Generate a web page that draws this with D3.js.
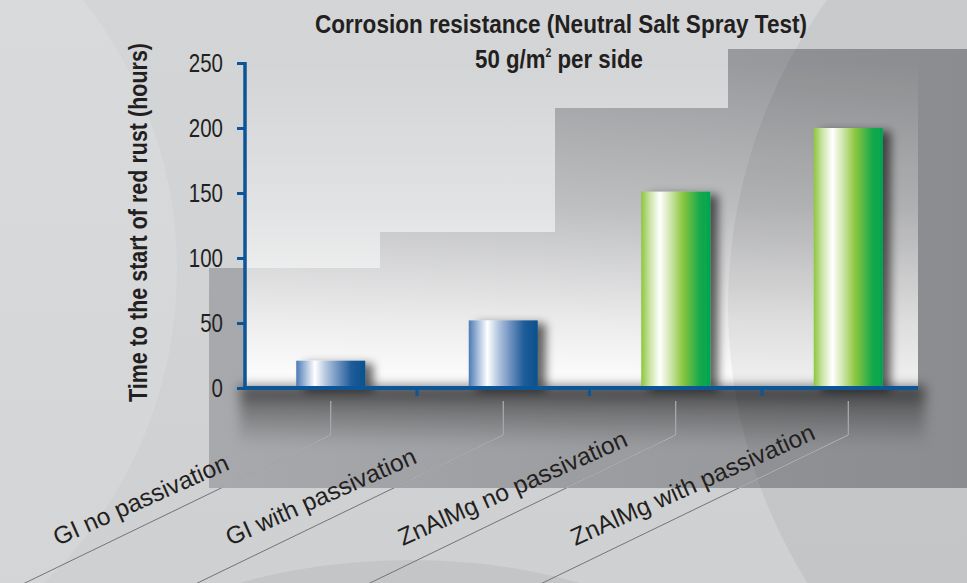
<!DOCTYPE html>
<html><head><meta charset="utf-8">
<script src="https://cdn.jsdelivr.net/npm/d3@7"></script>
<style>html,body{margin:0;padding:0;background:#d1d2d4;overflow:hidden}</style>
</head><body><svg id="c" width="967" height="583"></svg>
<script>
// ---- data ----
const categories = ["GI no passivation", "GI with passivation", "ZnAlMg no passivation", "ZnAlMg with passivation"];
const values = [21, 52, 151, 200];
const barKinds = ["blue", "blue", "green", "green"];
const yTicks = [0, 50, 100, 150, 200, 250];
const titleLine1 = "Corrosion resistance (Neutral Salt Spray Test)";
const titleLine2 = ["50 g/m", "2", " per side"];
const yLabel = "Time to the start of red rust (hours)";

const W = 967, H = 583;
const NARROW = "'Liberation Sans Narrow','Arial Narrow','Liberation Sans',Arial,sans-serif";
const REG = "'Liberation Sans',Arial,sans-serif";
const INK = "#231f20", AXIS = "#0c5596";

const svg = d3.select("#c");
const defs = svg.append("defs");
function lg(id, stops, vertical) {
  const g = defs.append("linearGradient").attr("id", id)
    .attr("x1", 0).attr("y1", 0).attr("x2", vertical ? 0 : 1).attr("y2", vertical ? 1 : 0);
  stops.forEach(s => g.append("stop").attr("offset", s[0]).attr("stop-color", s[1]).attr("stop-opacity", s[2] ?? 1));
}
lg("bgG", [[0, "#d4d5d7"], [1, "#cfd0d2"]], true);
lg("stairG", [[0, "#a8a9ac"], [0.5, "#9c9da0"], [1, "#939497"]], false);
lg("panelG", [[0, "#fff", 0], [0.45, "#fff", 0.35], [0.8, "#fff", 0.8], [1, "#fff", 1]], true);
lg("axShG", [[0, "#000", 0.62], [0.35, "#000", 0.3], [1, "#000", 0]], true);
lg("blueG", [[0, "#4a7ab3"], [0.12, "#9db6d8"], [0.27, "#ffffff"], [0.42, "#b7c8e0"], [0.6, "#6f92c0"], [0.8, "#1f5c99"], [1, "#0a508d"]]);
lg("greenG", [[0, "#8cc63e"], [0.12, "#c9e3a2"], [0.27, "#ffffff"], [0.42, "#cfe6ad"], [0.6, "#8dc63f"], [0.85, "#16a84b"], [1, "#00a650"]]);

const f = defs.append("filter").attr("id", "bs").attr("x", "-30%").attr("y", "-50%").attr("width", "190%").attr("height", "200%");
f.append("feGaussianBlur").attr("in", "SourceAlpha").attr("stdDeviation", 5).attr("result", "b");
f.append("feOffset").attr("in", "b").attr("dx", 8).attr("dy", 3).attr("result", "o");
f.append("feComponentTransfer").attr("in", "o").attr("result", "s").append("feFuncA").attr("type", "linear").attr("slope", 0.6);
const fm = f.append("feMerge"); fm.append("feMergeNode").attr("in", "s"); fm.append("feMergeNode").attr("in", "SourceGraphic");
const fb = defs.append("filter").attr("id", "blur").attr("x", "-20%").attr("y", "-60%").attr("width", "140%").attr("height", "220%");
fb.append("feGaussianBlur").attr("stdDeviation", 6);
defs.append("clipPath").attr("id", "darkClip").append("rect").attr("x", 209).attr("y", 0).attr("width", 760).attr("height", 488);

// ---- background ----
svg.append("rect").attr("width", W).attr("height", H).attr("fill", "url(#bgG)");
svg.append("circle").attr("cx", -258).attr("cy", 270).attr("r", 435).attr("fill", "#fff").attr("opacity", 0.12);
svg.append("ellipse").attr("cx", 410).attr("cy", 700).attr("rx", 310).attr("ry", 140).attr("fill", "#000").attr("opacity", 0.05);
svg.append("polygon")
  .attr("points", [[209,268],[380,268],[380,232],[555,232],[555,108],[728,108],[728,49],[967,49],[967,488],[209,488]].join(" "))
  .attr("fill", "url(#stairG)");

// scales
const y = d3.scaleLinear().domain([0, 250]).range([388, 63]);
const x = d3.scaleBand().domain(categories).range([244.5, 934.5]);
const bw = x.bandwidth();

// plot panel
svg.append("rect").attr("x", 245).attr("y", 62).attr("width", 918 - 245).attr("height", 388 - 62).attr("fill", "url(#panelG)");
svg.append("circle").attr("cx", 1251).attr("cy", 306).attr("r", 523).attr("fill", "#000").attr("opacity", 0.05);
// shadow under axis
svg.append("rect").attr("x", 240).attr("y", 386).attr("width", 685).attr("height", 60)
  .attr("fill", "url(#axShG)").attr("filter", "url(#blur)");

// leader lines and category labels
const slope = 0.484;
categories.forEach((c, i) => {
  const cx = x(c) + bw / 2;
  const d = `M${cx},401 L${cx},435 L${cx - (620 - 435) / slope},620`;
  svg.append("path").attr("d", d).attr("fill", "none").attr("stroke", "#737477").attr("stroke-width", 1);
  svg.append("path").attr("d", d).attr("fill", "none").attr("stroke", "#b6b7ba").attr("stroke-width", 1)
    .attr("clip-path", "url(#darkClip)");
  svg.append("text").text(c)
    .attr("transform", `translate(${cx - 273},546) rotate(-24)`)
    .attr("font-family", REG).attr("font-size", 24.5).attr("fill", INK);
});

// bars
svg.append("g").selectAll("rect").data(values).join("rect")
  .attr("x", (d, i) => x(categories[i]) + bw * 0.3)
  .attr("width", bw * 0.4)
  .attr("y", d => y(d))
  .attr("height", d => y(0) - y(d))
  .attr("fill", (d, i) => barKinds[i] === "blue" ? "url(#blueG)" : "url(#greenG)")
  .attr("filter", "url(#bs)");

// y axis
const ya = svg.append("g").attr("transform", "translate(245,0)")
  .call(d3.axisLeft(y).tickValues(yTicks).tickSize(8).tickSizeOuter(0).tickPadding(14));
ya.select(".domain").attr("stroke", AXIS).attr("stroke-width", 3.5).attr("d", "M0,390V62");
ya.selectAll(".tick line").attr("stroke", AXIS).attr("stroke-width", 3);
ya.selectAll(".tick text").attr("font-family", NARROW).attr("font-size", 25).attr("fill", INK)
  .attr("textLength", d => String(d).length * 11.4).attr("lengthAdjust", "spacingAndGlyphs");

// x axis line + ticks
svg.append("line").attr("x1", 243.5).attr("x2", 918).attr("y1", 388).attr("y2", 388)
  .attr("stroke", AXIS).attr("stroke-width", 4);
svg.append("g").selectAll("line").data(categories.slice(1)).join("line")
  .attr("x1", d => x(d)).attr("x2", d => x(d)).attr("y1", 388).attr("y2", 396)
  .attr("stroke", AXIS).attr("stroke-width", 3);

// y label
svg.append("text").text(yLabel)
  .attr("transform", "translate(147,222.5) rotate(-90)")
  .attr("text-anchor", "middle").attr("font-family", NARROW).attr("font-weight", "bold")
  .attr("font-size", 26).attr("fill", INK)
  .attr("textLength", 359).attr("lengthAdjust", "spacingAndGlyphs");

// title
svg.append("text").text(titleLine1)
  .attr("x", 561).attr("y", 33).attr("text-anchor", "middle")
  .attr("font-family", NARROW).attr("font-weight", "bold").attr("font-size", 25.5).attr("fill", INK)
  .attr("textLength", 492).attr("lengthAdjust", "spacingAndGlyphs");
const t2g = svg.append("g");
const t2 = t2g.append("text").attr("x", 0).attr("y", 68)
  .attr("font-family", NARROW).attr("font-weight", "bold").attr("font-size", 25.5).attr("fill", INK);
t2.append("tspan").text(titleLine2[0]);
t2.append("tspan").text(titleLine2[1]).attr("font-size", 12).attr("dy", -11);
t2.append("tspan").text(titleLine2[2]).attr("dy", 11);
const w2 = t2.node().getBBox().width;
const sc = 168 / w2;
t2g.attr("transform", `translate(${559 - 84},0) scale(${sc},1)`);
</script></body></html>
